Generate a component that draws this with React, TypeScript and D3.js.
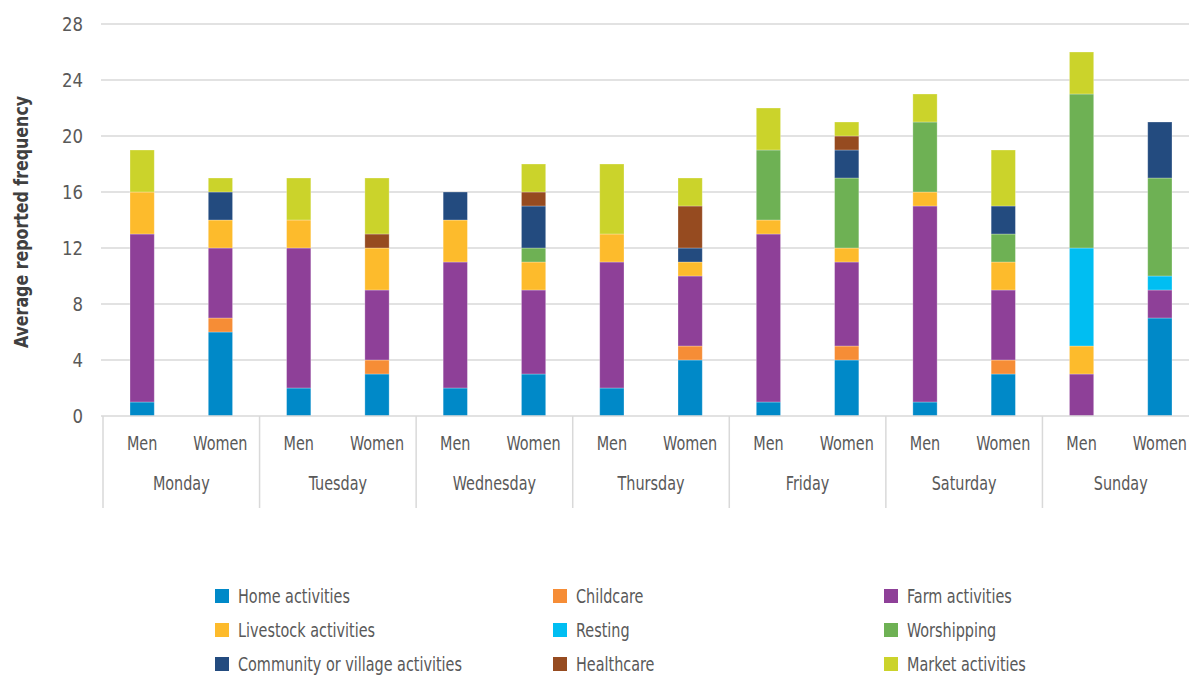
import React from 'react';
import * as d3 from 'd3';

const days = ['Monday', 'Tuesday', 'Wednesday', 'Thursday', 'Friday', 'Saturday', 'Sunday'];
const sexes = ['Men', 'Women'];

const activities = [
  'Home activities',
  'Childcare',
  'Farm activities',
  'Livestock activities',
  'Resting',
  'Worshipping',
  'Community or village activities',
  'Healthcare',
  'Market activities',
];

const colors = ['#0089c8', '#f68d36', '#8e4098', '#fdbb2c', '#00bef2', '#6eb154', '#234b7f', '#964b20', '#cbd32b'];

// one value per bar: Mon Men, Mon Women, Tue Men, ... Sun Women
const home = [1, 6, 2, 3, 2, 3, 2, 4, 1, 4, 1, 3, 0, 7];
const childcare = [0, 1, 0, 1, 0, 0, 0, 1, 0, 1, 0, 1, 0, 0];
const farm = [12, 5, 10, 5, 9, 6, 9, 5, 12, 6, 14, 5, 3, 2];
const livestock = [3, 2, 2, 3, 3, 2, 2, 1, 1, 1, 1, 2, 2, 0];
const resting = [0, 0, 0, 0, 0, 0, 0, 0, 0, 0, 0, 0, 7, 1];
const worship = [0, 0, 0, 0, 0, 1, 0, 0, 5, 5, 5, 2, 11, 7];
const community = [0, 2, 0, 0, 2, 3, 0, 1, 0, 2, 0, 2, 0, 4];
const healthcare = [0, 0, 0, 1, 0, 1, 0, 3, 0, 1, 0, 0, 0, 0];
const market = [3, 1, 3, 4, 0, 2, 5, 2, 3, 1, 2, 4, 3, 0];

const series = [home, childcare, farm, livestock, resting, worship, community, healthcare, market];
const yTicks = [0, 4, 8, 12, 16, 20, 24, 28];

const W = 1189;
const H = 675;
const FONT = '"DejaVu Sans", sans-serif';
const TEXT = '#595959';
const GRID = '#d9d9d9';
const SQUEEZE = 0.8;

type Row = { day: string; sex: string; [k: string]: string | number };

const rows: Row[] = [];
days.forEach((day, di) => {
  sexes.forEach((sex, si) => {
    const r: Row = { day, sex };
    activities.forEach((a, ai) => {
      r[a] = series[ai][di * 2 + si];
    });
    rows.push(r);
  });
});

// narrow label: the source uses a condensed face, so squeeze horizontally
const Label = ({ x, y, anchor = 'start', children }: { x: number; y: number; anchor?: string; children: React.ReactNode }) => (
  <g transform={`translate(${x},${y}) scale(${SQUEEZE},1)`}>
    <text dy="0.35em" textAnchor={anchor} fontSize={20} fill={TEXT}>{children}</text>
  </g>
);

export default function App() {
  const x0 = d3.scaleBand<string>().domain(days).range([103, 1199]).paddingInner(0).paddingOuter(0);
  const x1 = d3.scaleBand<string>().domain(sexes).range([0, x0.bandwidth()]).paddingInner(0.69).paddingOuter(0.345);
  const y = d3.scaleLinear().domain([0, 28]).range([416, 24]);

  const stacked = d3.stack<Row>().keys(activities).value((d, k) => d[k] as number)(rows);

  const axisBottom = y(0);
  const sepBottom = 508;

  return (
    <svg
      width={W}
      height={H}
      style={{ position: 'absolute', left: 0, top: 0, background: '#fff', fontStretch: 'condensed' }}
      fontFamily={FONT}
    >
      {/* grid */}
      {yTicks.map(t => (
        <g key={t}>
          {t > 0 && <line x1={101} x2={W} y1={y(t)} y2={y(t)} stroke={GRID} strokeWidth={1.5} />}
          <g transform={`translate(83,${y(t)}) scale(0.92,1)`}>
            <text dy="0.35em" textAnchor="end" fontSize={20} fill={TEXT}>{t}</text>
          </g>
        </g>
      ))}

      {/* bars */}
      {stacked.map((s, ai) => (
        <g key={s.key} fill={colors[ai]}>
          {s.map((d, i) => {
            const h = y(d[0]) - y(d[1]);
            if (h <= 0) return null;
            return (
              <rect
                key={i}
                x={(x0(d.data.day) || 0) + (x1(d.data.sex) || 0)}
                y={y(d[1])}
                width={x1.bandwidth()}
                height={h}
                stroke="#ffffff"
                strokeOpacity={0.35}
                strokeWidth={0.8}
              />
            );
          })}
        </g>
      ))}

      {/* category axis */}
      <line x1={101} x2={W} y1={axisBottom} y2={axisBottom} stroke={GRID} strokeWidth={1.5} />
      {days.map(day => {
        const x = x0(day) || 0;
        return (
          <g key={day}>
            <line x1={x} x2={x} y1={axisBottom} y2={sepBottom} stroke={GRID} strokeWidth={1.5} />
            {sexes.map(sex => (
              <Label key={sex} x={x + (x1(sex) || 0) + x1.bandwidth() / 2} y={443} anchor="middle">
                {sex}
              </Label>
            ))}
            <Label x={x + x0.bandwidth() / 2} y={483} anchor="middle">
              {day}
            </Label>
          </g>
        );
      })}

      {/* y axis title */}
      <g transform={`translate(21, 222) rotate(-90) scale(0.88,1)`}>
        <text textAnchor="middle" dy="0.35em" fontSize={20} fontWeight="bold" fill="#404040">
          Average reported frequency
        </text>
      </g>

      {/* legend */}
      {activities.map((a, i) => {
        const col = i % 3;
        const row = Math.floor(i / 3);
        const lx = [215, 553, 884][col];
        const ly = 596 + row * 34;
        return (
          <g key={a}>
            <rect x={lx} y={ly - 7} width={14} height={14} fill={colors[i]} />
            <Label x={lx + 23} y={ly}>{a}</Label>
          </g>
        );
      })}
    </svg>
  );
}
